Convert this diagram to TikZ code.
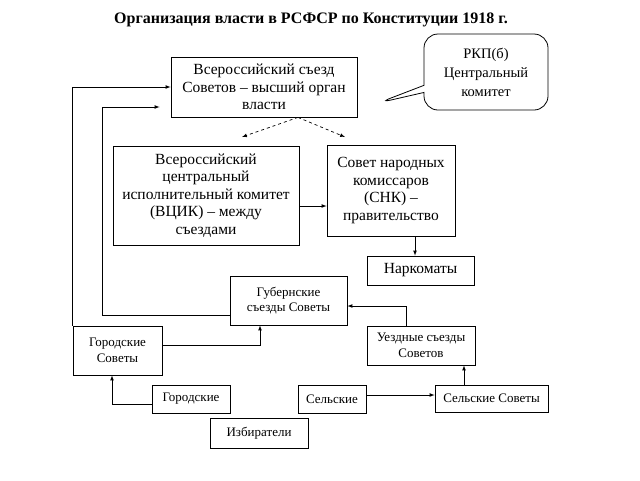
\documentclass[tikz,border=0pt]{standalone}
\usepackage{fontspec}
\setmainfont{Liberation Serif}
\usepackage{tikz}
\usetikzlibrary{arrows, positioning, shapes.callouts}

\begin{document}
\begin{tikzpicture}[x=1pt, y=-1pt]
		\tikzset{
			box/.style={rectangle, draw, solid, black, line width=0.8pt, fill=white, align=center,
			inner sep=0pt, font=\fontsize{15.5}{17.5}\selectfont},
			smallbox/.style={box, font=\fontsize{13}{15.5}\selectfont},
			link/.style={-latex, line width=0.7pt}
		}
		\useasboundingbox (0,0) rectangle (640,480);
		\node[font=\fontsize{16}{19}\selectfont\bfseries](title) at (311,20){Организация власти в РСФСР по Конституции 1918 г.};

		\node[box, minimum width=186pt, minimum height=60pt](congress) at (264,87){Всероссийский съезд\\Советов – высший орган\\власти};
		\node[box, minimum width=186pt, minimum height=99pt](vcik) at (206,195.5){Всероссийский\\центральный\\исполнительный комитет\\(ВЦИК) – между\\съездами};
		\node[box, minimum width=128pt, minimum height=91pt](snk) at (391,190.5){Совет народных\\комиссаров\\(СНК) –\\правительство};
		\node[box, minimum width=107pt, minimum height=29pt](narkom) at (420.5,270.5){Наркоматы};
		\node[smallbox, minimum width=117pt, minimum height=49pt](gubern) at (288.5,300.5){Губернские\\съезды Советы};
		\node[smallbox, minimum width=89pt, minimum height=49pt](gorsov) at (117.5,350.5){Городские\\Советы};
		\node[smallbox, minimum width=108pt, minimum height=39pt](uezd) at (421,345.5){Уездные съезды\\Советов};
		\node[smallbox, minimum width=113pt, minimum height=27pt](selsov) at (491.5,398.5){Сельские Советы};
		\node[smallbox, minimum width=68pt, minimum height=28pt](sel) at (332,399){Сельские};
		\node[smallbox, minimum width=78pt, minimum height=28pt](gor) at (191,399){Городские};
		\node[smallbox, minimum width=98pt, minimum height=30pt](izb) at (259,433){Избиратели};

		\node[rectangle callout, draw, line width=0.8pt, rounded corners=14pt, align=center,
			font=\fontsize{14.5}{19}\selectfont, minimum width=124pt, minimum height=76pt,
			callout absolute pointer={(378,103)}](party) at (486,72){РКП(б)\\Центральный\\комитет};

		\coordinate (toVcik) at (242,137);
		\coordinate (toSnk) at (345,137);
		\draw[link, dashed](congress.south) ++(34,0) coordinate (split) -- (toVcik);
		\draw[link, dashed](split) -- (toSnk);

		\draw[link](gorsov.north west) |- (congress.west);
		\draw[link, shorten >=11pt]([yshift=-14.5pt]gubern.west) -- ++(-127,0) |- ([yshift=-20pt]congress.west);
		\draw[link]([yshift=-10.5pt]vcik.east) coordinate (p) -- (p -| snk.west);
		\draw[link]([xshift=24pt]snk.south) coordinate (q) -- (q |- narkom.north);
		\draw[link]([yshift=5.5pt]gorsov.east) -| ([xshift=-28.5pt]gubern.south);
		\draw[link]([xshift=-15pt]uezd.north) |- ([yshift=-5.5pt]gubern.east);
		\draw[link]([xshift=-27.5pt]selsov.north) coordinate (r) -- (r |- uezd.south);
		\draw[link]([yshift=4pt]sel.east) coordinate (s) -- (s -| selsov.west);
		\draw[link]([yshift=-5pt]gor.west) -| ([xshift=-5.5pt]gorsov.south);

	\end{tikzpicture}
\end{document}
